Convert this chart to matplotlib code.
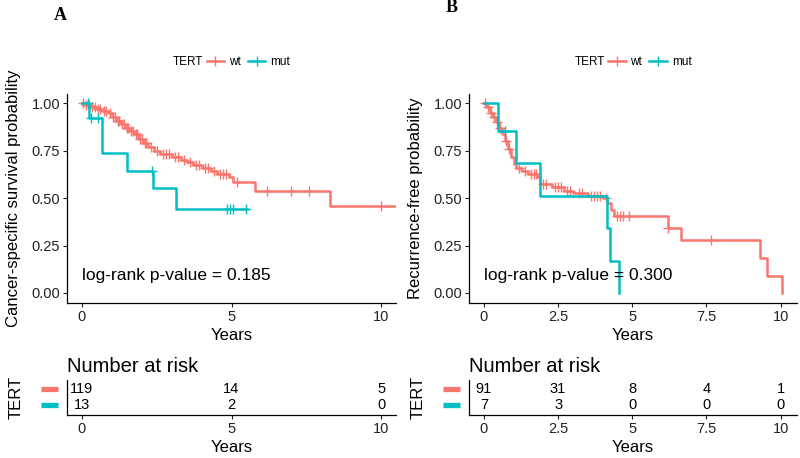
import matplotlib
matplotlib.use("Agg")
import matplotlib.pyplot as plt
import numpy as np
from matplotlib.lines import Line2D

plt.rcParams['font.family'] = ['Liberation Sans', 'DejaVu Sans']

RED = '#F8766D'
TEAL = '#00BFC4'

# ---- Panel A : cancer-specific survival ----
a_wt_t = [0, 0.1, 0.3, 0.5, 0.7, 0.9, 1.0, 1.15, 1.3, 1.45, 1.6, 1.75, 1.9, 2.05,
          2.2, 2.4, 2.6, 3.0, 3.3, 3.5, 3.7, 4.0, 4.3, 4.5, 4.9, 5.05, 5.8, 8.3]
a_wt_s = [1.0, 0.99, 0.98, 0.97, 0.96, 0.95, 0.93, 0.91, 0.89, 0.87, 0.855, 0.84, 0.81, 0.79,
          0.77, 0.75, 0.735, 0.72, 0.70, 0.69, 0.675, 0.66, 0.645, 0.63, 0.61, 0.585, 0.54, 0.46]
a_wt_end = 10.5
a_wt_cens = [0.05, 0.15, 0.25, 0.35, 0.45, 0.55, 0.6, 0.75, 0.8, 0.95, 1.05, 1.1, 1.2, 1.25,
             1.35, 1.4, 1.5, 1.55, 1.65, 1.7, 1.8, 1.85, 1.95, 2.0, 2.1, 2.15, 2.3, 2.5, 2.7,
             2.8, 2.9, 3.1, 3.2, 3.4, 3.6, 3.8, 3.9, 4.1, 4.2, 4.4, 4.6, 4.7, 4.8, 5.2, 6.2,
             7.0, 7.6, 10.0]
a_mut_t = [0, 0.25, 0.67, 1.5, 2.38, 3.16]
a_mut_s = [1.0, 0.923, 0.74, 0.645, 0.555, 0.445]
a_mut_end = 5.52
a_mut_cens = [0.2, 0.3, 0.52, 2.35, 4.85, 4.95, 5.05, 5.5]
a_risk_t = [0, 5, 10]
a_risk_wt = [119, 14, 5]
a_risk_mut = [13, 2, 0]
a_ticks = [0, 5, 10]
a_ticklabels = ['0', '5', '10']

# ---- Panel B : recurrence-free survival ----
b_wt_t = [0, 0.1, 0.2, 0.3, 0.4, 0.5, 0.6, 0.7, 0.8, 0.9, 1.0, 1.1, 1.3, 1.5, 1.8, 1.9,
          2.3, 2.7, 3.0, 3.5, 4.0, 4.15, 4.3, 4.4, 6.2, 6.65, 9.3, 9.55, 10.05]
b_wt_s = [1.0, 0.98, 0.95, 0.93, 0.90, 0.87, 0.84, 0.80, 0.76, 0.72, 0.68, 0.66, 0.645, 0.63,
          0.61, 0.575, 0.56, 0.54, 0.525, 0.51, 0.50, 0.475, 0.44, 0.405, 0.345, 0.28, 0.185,
          0.09, 0.0]
b_wt_end = 10.05
b_wt_cens = [0.05, 0.15, 0.25, 0.35, 0.45, 0.55, 0.75, 0.85, 1.2, 1.4, 1.6, 1.7, 1.75, 2.0,
             2.1, 2.4, 2.5, 2.6, 2.8, 2.9, 3.2, 3.3, 3.6, 3.7, 3.8, 3.9, 4.1, 4.5, 4.6, 4.7,
             4.9, 6.2, 7.65]
b_mut_t = [0, 0.48, 1.08, 1.9, 4.14, 4.25, 4.55]
b_mut_s = [1.0, 0.857, 0.686, 0.514, 0.343, 0.171, 0.0]
b_mut_end = 4.55
b_mut_cens = [0.7]
b_risk_t = [0, 2.5, 5, 7.5, 10]
b_risk_wt = [91, 31, 8, 4, 1]
b_risk_mut = [7, 3, 0, 0, 0]
b_ticks = [0, 2.5, 5, 7.5, 10]
b_ticklabels = ['0', '2.5', '5', '7.5', '10']

W, H = 800, 458
fig = plt.figure(figsize=(8, 4.58), dpi=100, facecolor='white')


def rect(x0, y0, x1, y1):
    return [x0 / W, 1 - y1 / H, (x1 - x0) / W, (y1 - y0) / H]


def step_value(t, s, c):
    i = np.searchsorted(t, c, side='right') - 1
    return np.asarray(s)[i]


def style(ax):
    for sp in ('top', 'right'):
        ax.spines[sp].set_visible(False)
    for sp in ('left', 'bottom'):
        ax.spines[sp].set_linewidth(0.9)
    ax.tick_params(length=3, width=0.8, labelsize=10.5, colors='#222222', pad=2)


def km(ax, t, s, end, cens, color):
    tt = list(t) + [end]
    ss = list(s) + [s[-1]]
    ax.step(tt, ss, where='post', color=color, lw=1.8)
    ax.plot(cens, step_value(t, s, cens), ls='none', marker='+', ms=6.5,
            mew=1.0, color=color)


panels = [
    dict(x0=67, x1=396, xmax=10.5, letter='A', lx=60, ly=15, off=0,
         ylabel='Cancer-specific survival probability', pval='log-rank p-value = 0.185',
         wt=(a_wt_t, a_wt_s, a_wt_end, a_wt_cens), mut=(a_mut_t, a_mut_s, a_mut_end, a_mut_cens),
         rt=a_risk_t, rwt=a_risk_wt, rmut=a_risk_mut, ticks=a_ticks, tl=a_ticklabels),
    dict(x0=469, x1=797, xmax=10.55, letter='B', lx=452, ly=8, off=402,
         ylabel='Recurrence-free probability', pval='log-rank p-value = 0.300',
         wt=(b_wt_t, b_wt_s, b_wt_end, b_wt_cens), mut=(b_mut_t, b_mut_s, b_mut_end, b_mut_cens),
         rt=b_risk_t, rwt=b_risk_wt, rmut=b_risk_mut, ticks=b_ticks, tl=b_ticklabels),
]

for p in panels:
    x0, x1 = p['x0'], p['x1']
    w = x1 - x0
    ax = fig.add_axes(rect(x0, 94, x1, 303))
    style(ax)
    km(ax, *p['wt'], RED)
    km(ax, *p['mut'], TEAL)
    ax.set_xlim(-0.5, p['xmax'])
    ax.set_ylim(-0.053, 1.05)
    ax.set_xticks(p['ticks'])
    ax.set_xticklabels(p['tl'])
    ax.set_yticks([0, 0.25, 0.5, 0.75, 1.0])
    ax.set_yticklabels(['0.00', '0.25', '0.50', '0.75', '1.00'])
    ax.set_xlabel('Years', fontsize=12, labelpad=3)
    ax.set_ylabel(p['ylabel'], fontsize=12)
    ax.yaxis.set_label_coords((p['off'] + 21 - x0) / w, 0.5)
    ax.text(0, 0.09, p['pval'], fontsize=12.5, va='center', ha='left')

    # legend
    cx = (x0 + x1) / 2
    fig.text((cx - 28) / W, 1 - 62 / H, 'TERT', fontsize=8.5, ha='right', va='center')
    handles = [Line2D([], [], color=RED, lw=1.8, marker='+', ms=6.5),
               Line2D([], [], color=TEAL, lw=1.8, marker='+', ms=6.5)]
    fig.legend(handles, ['wt', 'mut'], ncol=2, loc='center left',
               bbox_to_anchor=((cx - 25) / W, 1 - 62 / H), frameon=False,
               fontsize=8.5, handlelength=1.5, handletextpad=0.4, columnspacing=0.6,
               borderpad=0, borderaxespad=0)

    # panel letter
    fig.text(p['lx'] / W, 1 - p['ly'] / H, p['letter'], fontsize=13, fontweight='bold',
             family='Liberation Serif', ha='center', va='center')

    # risk table
    rt = fig.add_axes(rect(x0, 380, x1, 415))
    style(rt)
    rt.set_xlim(-0.5, p['xmax'])
    rt.set_ylim(-0.62, 1.56)
    rt.set_xticks(p['ticks'])
    rt.set_xticklabels(p['tl'])
    rt.set_yticks([])
    for t, v in zip(p['rt'], p['rwt']):
        rt.text(t, 1, str(v), fontsize=10.5, ha='center', va='center')
    for t, v in zip(p['rt'], p['rmut']):
        rt.text(t, 0, str(v), fontsize=10.5, ha='center', va='center')
    tr = rt.get_yaxis_transform()
    bx0 = (p['off'] + 41 - x0) / w
    bx1 = (p['off'] + 58 - x0) / w
    rt.plot([bx0, bx1], [1, 1], color=RED, lw=3.8, transform=tr, clip_on=False,
            solid_capstyle='butt')
    rt.plot([bx0, bx1], [0, 0], color=TEAL, lw=3.8, transform=tr, clip_on=False,
            solid_capstyle='butt')
    rt.set_xlabel('Years', fontsize=12, labelpad=3)
    rt.set_ylabel('TERT', fontsize=12)
    rt.yaxis.set_label_coords((p['off'] + 24 - x0) / w, 0.5)
    rt.text(0, (415 - 366) / 35, 'Number at risk', fontsize=14.5, transform=rt.transAxes,
            ha='left', va='center')

fig.savefig('out.png', dpi=100)
